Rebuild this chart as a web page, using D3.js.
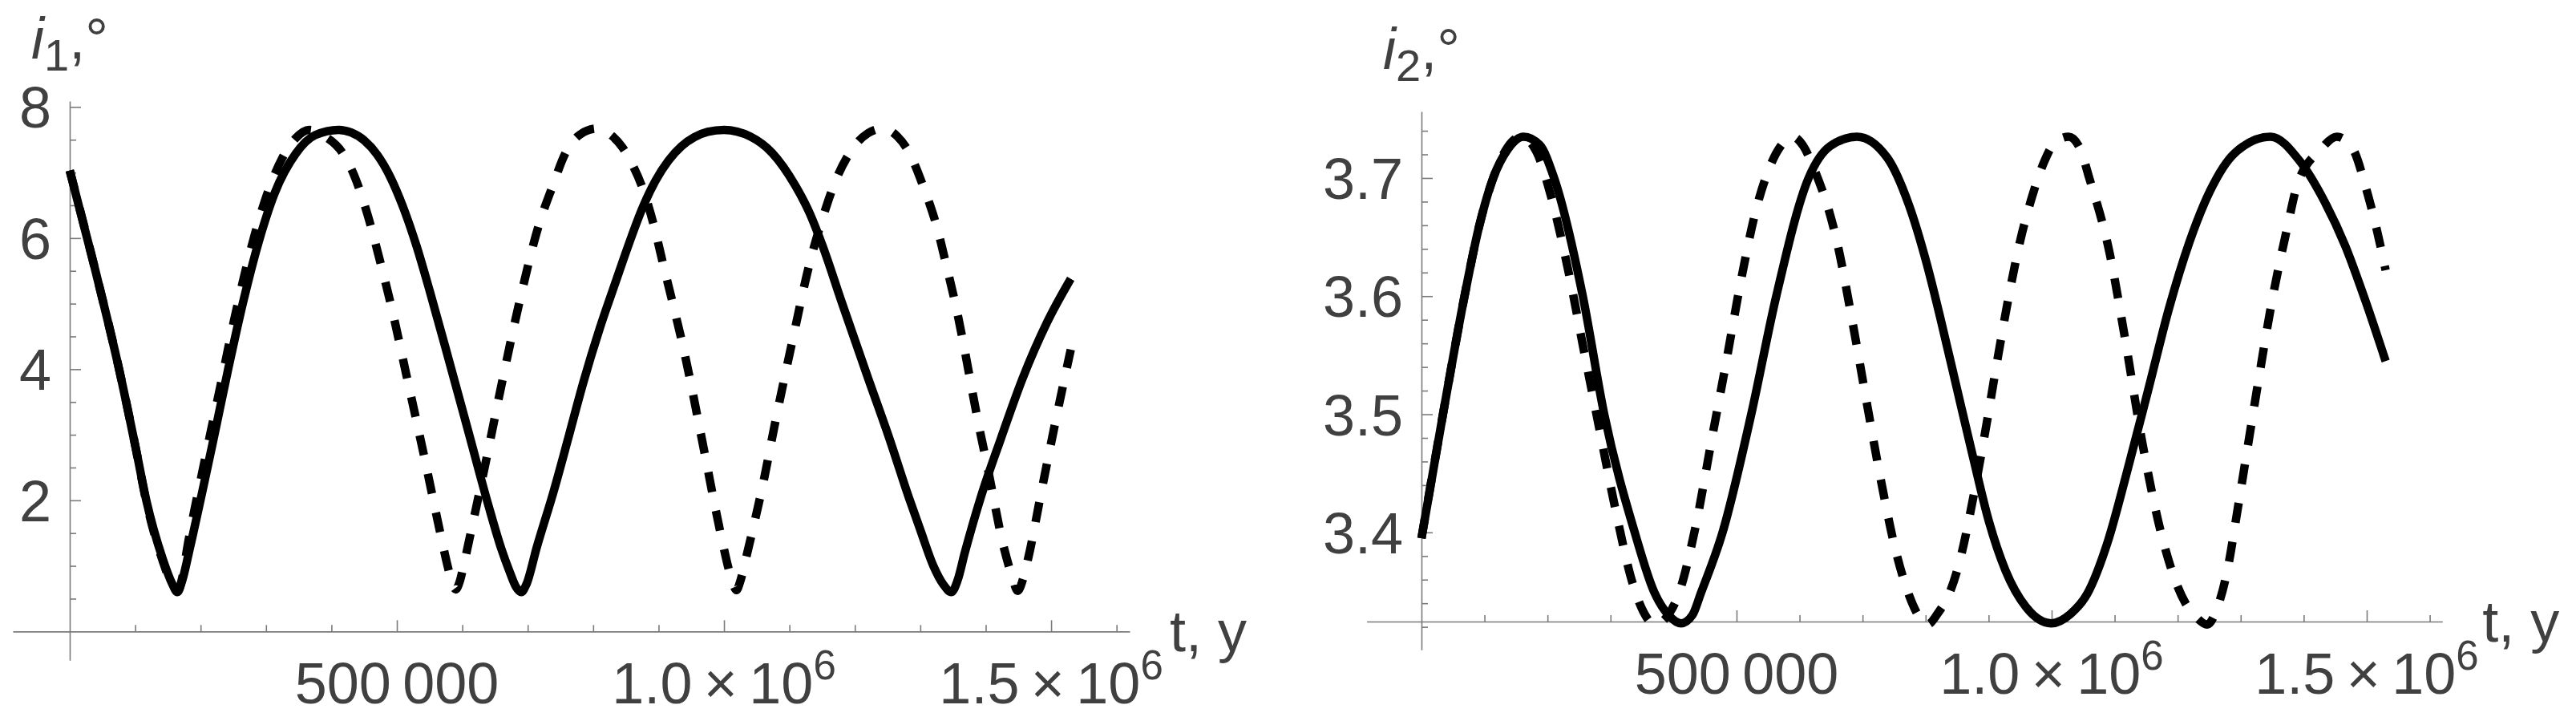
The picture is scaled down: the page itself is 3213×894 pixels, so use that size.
<!DOCTYPE html>
<html>
<head>
<meta charset="utf-8">
<script src="https://cdn.jsdelivr.net/npm/d3@7"></script>
<style>
  html, body { margin: 0; padding: 0; background: #ffffff; }
  svg { display: block; }
  text { font-family: "Liberation Sans", Arial, sans-serif; fill: #404040; }
  .axis .domain, .axis line { stroke: #7a7a7a; stroke-width: 1.6; }
</style>
</head>
<body>
<svg id="chart" width="3213" height="894"></svg>
<script>
// ---------------- data ----------------
// time t in years, inclination in degrees
const i1Solid = [
  [0, 7.03], [36800, 5.60], [75400, 4.0], [101000, 2.79], [117000, 2.0], [142000, 1.11],
  [156000, 0.74], [164500, 0.60], [172000, 0.78], [182000, 1.2], [203000, 2.15], [218000, 2.85],
  [241700, 3.98], [265400, 5.04], [289000, 5.95], [313000, 6.68], [345600, 7.29], [375000, 7.57],
  [411000, 7.65], [430000, 7.61], [450000, 7.49], [470000, 7.27], [490000, 6.93], [510000, 6.46],
  [530000, 5.88], [550000, 5.20], [580000, 4.12], [610000, 3.02], [640000, 1.92], [660000, 1.25],
  [672000, 0.92], [682000, 0.68], [690000, 0.60], [698000, 0.72], [713700, 1.28], [740000, 2.15],
  [762000, 2.95], [785000, 3.80], [810000, 4.62], [835000, 5.35], [856000, 5.95], [875000, 6.45],
  [895000, 6.87], [915000, 7.18], [935000, 7.40], [955000, 7.54], [975000, 7.62], [1000000, 7.65],
  [1040000, 7.55], [1073500, 7.30], [1109000, 6.80], [1130000, 6.40], [1150000, 5.90], [1180000, 5.02],
  [1218900, 3.90], [1251500, 2.98], [1284000, 2.0], [1300000, 1.55], [1320000, 1.0], [1335000, 0.72],
  [1347600, 0.60], [1357000, 0.78], [1368000, 1.2], [1392600, 2.05], [1423500, 2.95], [1456000, 3.85],
  [1494000, 4.72], [1530000, 5.38]
];
const i1Dashed = [
  [0, 7.03], [36800, 5.60], [75400, 4.0], [101000, 2.79], [117000, 1.98], [142000, 1.08],
  [156000, 0.72], [165000, 0.62], [172000, 0.82], [180000, 1.3], [203000, 2.45], [229800, 3.72],
  [250600, 4.72], [265400, 5.37], [283000, 6.06], [301000, 6.65], [324800, 7.22], [345000, 7.52],
  [366000, 7.65], [390000, 7.55], [416800, 7.30], [435000, 6.95], [455400, 6.35], [475000, 5.62],
  [491000, 4.98], [514800, 3.90], [541500, 2.68], [565300, 1.55], [578000, 0.98], [585000, 0.72],
  [590000, 0.64], [596000, 0.76], [603000, 1.05], [612800, 1.5], [636600, 2.62], [660300, 3.78],
  [687000, 5.01], [716700, 6.19], [737500, 6.78], [758300, 7.31], [780000, 7.58], [806000, 7.67],
  [830000, 7.55], [845000, 7.38], [860000, 7.12], [874900, 6.78], [892600, 6.20], [907500, 5.58],
  [922300, 4.98], [937100, 4.36], [949000, 3.80], [960900, 3.20], [972700, 2.60], [984000, 2.02],
  [996400, 1.42], [1008000, 0.92], [1014000, 0.72], [1019000, 0.63], [1025000, 0.77], [1032000, 1.05],
  [1045000, 1.6], [1057500, 2.15], [1080700, 3.31], [1106000, 4.5], [1131000, 5.62], [1150600, 6.3],
  [1169600, 6.85], [1196900, 7.37], [1220000, 7.6], [1242000, 7.67], [1265000, 7.55], [1281000, 7.34],
  [1304800, 6.78], [1325600, 6.16], [1340400, 5.56], [1355300, 4.92], [1367100, 4.33], [1379000, 3.69],
  [1390900, 3.07], [1402700, 2.51], [1426500, 1.33], [1440000, 0.85], [1449000, 0.62], [1457000, 0.8],
  [1465000, 1.12], [1486000, 2.18], [1506600, 3.2], [1530000, 4.3]
];
const i2Solid = [
  [0, 3.395], [34100, 3.50], [68300, 3.60], [91000, 3.658], [113800, 3.70], [136500, 3.724],
  [162000, 3.735], [187700, 3.728], [210500, 3.70], [256000, 3.60], [290000, 3.50], [338400, 3.40],
  [369700, 3.349], [392000, 3.330], [412000, 3.323], [430000, 3.330], [443700, 3.349], [477800, 3.40],
  [523300, 3.50], [563000, 3.60], [614300, 3.70], [648400, 3.727], [691000, 3.735], [739400, 3.717],
  [773600, 3.677], [802000, 3.627], [822700, 3.583], [848700, 3.524], [874700, 3.465], [900600, 3.409],
  [926600, 3.368], [959000, 3.337], [999400, 3.323], [1030000, 3.331], [1056500, 3.348], [1089000, 3.392],
  [1121400, 3.455], [1153900, 3.522], [1186400, 3.590], [1218800, 3.646], [1251300, 3.689], [1290300, 3.721],
  [1347400, 3.735], [1394200, 3.714], [1433100, 3.680], [1465600, 3.643], [1498000, 3.596], [1530000, 3.545]
];
const i2Dashed = [
  [0, 3.395], [34100, 3.50], [68300, 3.60], [91000, 3.658], [113800, 3.70], [136500, 3.726],
  [158000, 3.735], [182800, 3.722], [204800, 3.686], [233200, 3.621], [258800, 3.551], [284400, 3.482],
  [307200, 3.421], [335600, 3.356], [352000, 3.333], [370000, 3.322], [390000, 3.329], [409500, 3.350],
  [435000, 3.405], [460700, 3.479], [483500, 3.544], [506200, 3.611], [531800, 3.675], [551700, 3.708],
  [570000, 3.727], [589000, 3.735], [606000, 3.727], [622800, 3.708], [659800, 3.645], [682600, 3.582],
  [708200, 3.505], [728000, 3.447], [753700, 3.382], [773600, 3.347], [788000, 3.330], [803000, 3.322],
  [820000, 3.332], [839000, 3.350], [858400, 3.385], [871400, 3.418], [894200, 3.484], [913600, 3.545],
  [933100, 3.603], [949300, 3.645], [968800, 3.684], [988300, 3.714], [1005000, 3.730], [1027000, 3.735],
  [1045000, 3.725], [1059700, 3.700], [1092200, 3.636], [1114900, 3.569], [1144200, 3.475], [1173400, 3.400],
  [1212400, 3.340], [1230000, 3.328], [1247000, 3.322], [1262000, 3.335], [1277300, 3.364], [1296800, 3.425],
  [1309800, 3.468], [1328000, 3.528], [1348700, 3.593], [1374700, 3.660], [1389000, 3.693], [1426600, 3.724],
  [1452600, 3.735], [1478600, 3.724], [1498000, 3.693], [1514300, 3.660], [1530000, 3.622]
];

// tick values
const xMajorTicks = [500000, 1000000, 1500000];
const xMajorLabels = [["500\u2009000"], ["1.0", "6"], ["1.5", "6"]];
const xMinorTicks = [100000, 200000, 300000, 400000, 600000, 700000, 800000, 900000,
                     1100000, 1200000, 1300000, 1400000, 1600000];
const i1MajorTicks = [2, 4, 6, 8];
const i1MinorTicks = [0.5, 1, 1.5, 2.5, 3, 3.5, 4.5, 5, 5.5, 6.5, 7, 7.5];
const i2MajorTicks = [3.4, 3.5, 3.6, 3.7];
const i2MinorTicks = [3.32, 3.34, 3.36, 3.38, 3.42, 3.44, 3.46, 3.48, 3.52, 3.54, 3.56, 3.58,
                      3.62, 3.64, 3.66, 3.68, 3.72, 3.74];

// ---------------- drawing ----------------
const svg = d3.select("#chart");
svg.append("rect").attr("width", 3213).attr("height", 894).attr("fill", "#ffffff");

const panels = [
  { sub: "1", solid: i1Solid, dashed: i1Dashed,
    xDomain: [-87000, 1620000], xRange: [16, 1409],
    yDomain: [-0.44, 8.09], yRange: [823.3, 126],
    xAxisAt: 0, yMajor: i1MajorTicks, yMinor: i1MinorTicks, yFmt: d3.format("d") },
  { sub: "2", solid: i2Solid, dashed: i2Dashed,
    xDomain: [-87000, 1620000], xRange: [1704.6, 3046.3],
    yDomain: [3.3006, 3.7564], yRange: [810.2, 138.9],
    xAxisAt: 3.3245, yMajor: i2MajorTicks, yMinor: i2MinorTicks, yFmt: d3.format(".1f") }
];

const FS = 72;

panels.forEach(p => {
  const x = d3.scaleLinear().domain(p.xDomain).range(p.xRange);
  const y = d3.scaleLinear().domain(p.yDomain).range(p.yRange);
  const g = svg.append("g");
  const axY = y(p.xAxisAt);
  const axX = x(0);

  // x axis: minor + major ticks pointing up
  g.append("g").attr("class", "axis").attr("transform", `translate(0,${axY})`)
    .call(d3.axisBottom(x).tickValues(xMinorTicks).tickSize(-8).tickSizeOuter(0).tickFormat(""));
  const xmaj = g.append("g").attr("class", "axis").attr("transform", `translate(0,${axY})`)
    .call(d3.axisBottom(x).tickValues(xMajorTicks).tickSize(-14).tickSizeOuter(0).tickFormat(""));
  xmaj.select(".domain").remove();

  // x tick labels
  xMajorTicks.forEach((t, k) => {
    const lab = xMajorLabels[k];
    const txt = g.append("text")
      .attr("x", x(t)).attr("y", axY + 90)
      .attr("text-anchor", "middle")
      .attr("font-size", FS);
    if (lab.length === 1) {
      txt.text(lab[0]);
    } else {
      txt.append("tspan").text(lab[0] + "\u2009\u00d7\u200910");
      txt.append("tspan").attr("dy", -30).attr("font-size", 51).text(lab[1]);
    }
  });

  // x axis label
  g.append("text").attr("x", p.xRange[1] + 50).attr("y", axY + 25)
    .attr("font-size", FS).text("t, y");

  // y axis
  g.append("g").attr("class", "axis").attr("transform", `translate(${axX},0)`)
    .call(d3.axisLeft(y).tickValues(p.yMinor).tickSize(-8).tickSizeOuter(0).tickFormat(""));
  const ymaj = g.append("g").attr("class", "axis").attr("transform", `translate(${axX},0)`)
    .call(d3.axisLeft(y).tickValues(p.yMajor).tickSize(-14).tickSizeOuter(0)
      .tickPadding(23).tickFormat(p.yFmt));
  ymaj.select(".domain").remove();
  ymaj.selectAll("text").attr("font-size", FS).attr("fill", "#404040")
    .attr("dy", "0.355em").style("font-family", "'Liberation Sans', Arial, sans-serif");

  // y axis label  i_n,°
  const yl = g.append("text").attr("x", axX).attr("y", p.yRange[1] - 53)
    .attr("text-anchor", "middle").attr("font-size", FS);
  yl.append("tspan").attr("font-style", "italic").text("i");
  yl.append("tspan").attr("font-size", 56).attr("dy", 15).text(p.sub);
  yl.append("tspan").attr("dy", -15).text(",\u00b0");

  // curves
  const line = d3.line().x(d => x(d[0])).y(d => y(d[1])).curve(d3.curveMonotoneX);
  g.append("path").datum(p.solid).attr("d", line)
    .attr("fill", "none").attr("stroke", "#000").attr("stroke-width", 10.5)
    .attr("stroke-linejoin", "round").attr("stroke-linecap", "butt");
  g.append("path").datum(p.dashed).attr("d", line)
    .attr("fill", "none").attr("stroke", "#000").attr("stroke-width", 10.5)
    .attr("stroke-dasharray", "25,24")
    .attr("stroke-linejoin", "round").attr("stroke-linecap", "butt");
});
</script>
</body>
</html>
